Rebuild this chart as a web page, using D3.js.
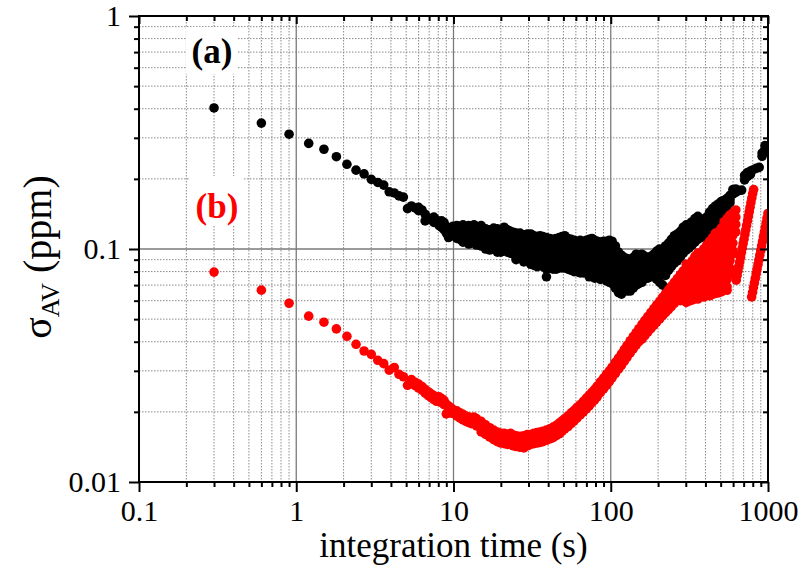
<!DOCTYPE html>
<html><head><meta charset="utf-8">
<script src="https://cdn.jsdelivr.net/npm/d3@7"></script>
<style>body{margin:0;background:#fff}</style>
</head><body><svg id="c" width="804" height="578"></svg>
<script>
// ---- tick labels ----
const xTickValues=[0.1,1,10,100,1000];
const xTickLabels=["0.1","1","10","100","1000"];
const yTickValues=[0.01,0.1,1];
const yTickLabels=["0.01","0.1","1"];
const xTitle="integration time (s)";
const seriesLabels=["(a)","(b)"];

// ---- series (a), black: integration time and sigma readings at each time ----
const blackTau=[0.3,0.6,0.9,1.2,1.5,1.8,2.1,2.4,2.7,3.0,3.3,3.6,3.9,4.2,4.5,4.8,5.1,5.4,5.7,6.0,6.3,6.6,6.9,7.2,7.5,7.8,8.1,8.4,8.7,9.0,9.3,9.6,9.9,10.5,11,11.5,12,12.5,13,13.5,14,15,16,17,18,19,20,21,22,23,24,25,26.5,28,29.5,31,32.5,34,35.5,37,39,41,43,45,47,49,51,53.5,56,58.5,61,64,67,70,73,76,79,82,86,90,94,98,102,107,112,117,122,127,133,139,145,151,158,165,172,180,188,196,205,214,223,233,243,254,265,277,289,302,315,329,343,358,374,390,407,425,444,463,483,504,526,549,573,598,624,651,680,710,741,773,807,842,879,917,957,999];
const blackSigma=[[.403],[.347],[.311],[.284],[.268],[.249],[.231],[.218],[.210],[.199],[.193],[.188],[.176],[.174],[.169],[.167],[.149],
[.153],[.150],[.151,.146],[.147],[.141,.132],[.136],[.134],[.137,.130],[.133],[.131,.126],[.132,.124],[.130,.121],[.125,.117],[.121,.112],[.123,.114],[.125,.117],
[.126,.118,.111],[.125,.117,.110],[.127,.119,.112,.107],[.123,.115,.109],[.126,.118,.111,.105],[.124,.116,.108],[.127,.119,.112,.106],[.125,.117,.110,.104],[.126,.118,.110,.103],[.122,.114,.107,.100],[.121,.113,.106,.099],[.123,.115,.107,.100],[.122,.113,.105,.097],[.120,.112,.104,.097],[.124,.115,.107,.099],[.121,.113,.105,.097],[.119,.111,.103,.096],[.118,.110,.102,.095],[.117,.109,.101,.094,.090],[.117,.108,.100,.093],[.115,.107,.099,.092,.088],[.116,.107,.099,.092],[.116,.107,.099,.092,.086],[.114,.106,.098,.091,.085],[.113,.105,.097,.090,.084],[.114,.106,.098,.091,.086],[.113,.105,.097,.090,.084],[.112,.104,.096,.089,.082,.076],[.111,.103,.096,.089,.083],[.110,.102,.095,.088,.082],[.111,.103,.095,.088,.082],[.112,.104,.096,.089,.083],[.113,.105,.097,.090,.083],[.114,.106,.098,.090,.083],[.111,.103,.095,.088,.082],[.110,.102,.094,.087,.081],[.109,.101,.093,.086,.080],[.108,.100,.093,.086,.080],[.109,.101,.093,.086,.079],[.108,.100,.092,.085,.079],[.109,.101,.093,.086,.079],[.110,.102,.094,.087,.080,.076],[.111,.103,.095,.087,.080],[.109,.101,.093,.086,.079,.075],[.108,.100,.092,.085,.078],[.107,.099,.092,.085,.078,.074],[.108,.100,.092,.085,.078],[.108,.100,.092,.084,.077,.073],[.109,.101,.093,.085,.078,.072],[.108,.100,.092,.084,.077,.071],[.103,.095,.088,.081,.074,.068],[.097,.090,.083,.076,.070,.065],[.094,.087,.080,.074,.068,.064],[.092,.085,.078,.072,.067],[.091,.084,.077,.071,.066],[.090,.083,.077,.071,.066],[.092,.085,.079,.073,.068],[.095,.088,.081,.075,.070],[.094,.087,.081,.075,.071],[.095,.088,.082,.076,.072],[.093,.087,.081,.076],[.092,.086,.080,.075],[.093,.087,.081,.076],[.095,.088,.082,.077],[.098,.091,.084,.078,.074],[.100,.093,.086,.079,.072],[.099,.092,.085,.078,.070],[.103,.096,.089,.082,.077],[.106,.099,.092,.086,.081],[.110,.103,.096,.089,.084],[.114,.106,.099,.092,.087],[.116,.108,.101,.094,.089],[.119,.111,.103,.096,.092],[.124,.116,.108,.101,.096],[.127,.119,.111,.104,.099],[.128,.120,.112,.105,.101],[.131,.123,.115,.108,.104],[.135,.126,.118,.111,.107],[.138,.129,.121,.114,.110],[.134,.126,.118,.112],[.134,.126,.119,.113],[.137,.129,.121,.115],[.144,.135,.127,.120],[.149,.141,.133,.126],[.153,.145,.138,.131],[.156,.148,.141,.135],[.160,.152,.146,.140],[.162,.155,.149],[.165,.158,.152],[.170,.163,.158],[.180,.172],[.181,.175],[.178],[.179],[.207,.198],[.213,.205],[.216,.209],[.219],[.222],[.224],[.258,.250],[.268,.278],[.272,.262]];

// ---- series (b), red ----
const redTau=[0.3,0.6,0.9,1.2,1.5,1.8,2.1,2.4,2.7,3.0,3.3,3.6,3.9,4.2,4.5,4.8,5.1,5.4,5.7,6.0,6.3,6.6,6.9,7.2,7.5,7.8,8.1,8.4,8.7,9.0,9.3,9.6,9.9,10.5,11,11.5,12,12.5,13,13.5,14,15,16,17,18,19,20,21,22,23,24,25,26.5,28,29.5,31,32.5,34,35.5,37,39,41,43,45,47,49,51,53.5,56,58.5,61,64,67,70,73,76,79,82,86,90,94,98,102,107,112,117,122,127,133,139,145,151,158,165,172,180,188,196,205,214,223,233,243,254,265,277,289,302,315,329,343,358,374,390,407,425,444,463,483,504,526,549,573,598,624];
const redSigma=[[.0796],[.0666],[.0585],[.0515],[.0485],[.0454],[.0422],[.0390],[.0365],[.0353],[.0333],[.0322],[.0302],[.0310],[.0290],[.0283],[.0260],
[.0275,.0265],[.0268,.0259],[.0263,.0253],[.0257,.0248],[.0250,.0241],[.0244,.0235],[.0239,.0230],[.0235,.0226],[.0231,.0222],[.0232,.0222],[.0228,.0219],[.0224,.0215],[.0216,.0196],[.0212,.0203],[.0208,.0198],[.0205,.0197],
[.0202,.0192],[.0198,.0188],[.0195,.0185],[.0192,.0182],[.0190,.0180],[.0189,.0178],[.0190,.0179],[.0187,.0174],[.0182,.0170,.0164],[.0176,.0166,.0160],[.0171,.0161,.0156],[.0167,.0158,.0152],[.0164,.0155,.0149],[.0162,.0153,.0147],[.0162,.0152,.0146],[.0160,.0151,.0145],[.0162,.0152,.0146],[.0159,.0150,.0143],[.0158,.0148,.0142],[.0157,.0147,.0141],[.0158,.0147,.0140],[.0160,.0150,.0143],[.0160,.0151,.0145],[.0162,.0153,.0146],[.0163,.0154,.0147],[.0164,.0155,.0148],[.0165,.0156,.0149],[.0167,.0158,.0151],[.0169,.0160,.0153],[.0172,.0163,.0155],[.0175,.0166,.0158],[.0179,.0169,.0161],[.0183,.0173,.0165],[.0187,.0177,.0169],[.0192,.0182,.0173],[.0198,.0187,.0178],[.0203,.0192,.0183],[.0209,.0198,.0188],[.0215,.0204,.0194],[.0222,.0210,.0200],[.0229,.0216,.0206],[.0236,.0223,.0212],[.0243,.0230,.0219],[.0250,.0237,.0225],[.0258,.0244,.0232],[.0269,.0254,.0242],[.0279,.0264,.0251],[.0290,.0274,.0260],[.0300,.0284,.0270],[.0311,.0294,.0280],[.0326,.0308,.0292],[.0340,.0321,.0305],[.0355,.0335,.0317],[.0371,.0350,.0330],[.0386,.0364,.0343],[.0404,.0381,.0358],[.0421,.0397,.0373],[.0438,.0413,.0387],[.0455,.0428,.0400],
[.0475,.0447,.0420,.0410],[.0494,.0465,.0437,.0425],[.0513,.0483,.0454,.0440],[.0534,.0503,.0472,.0455],[.0555,.0522,.0490,.0470],[.0576,.0541,.0508,.0486],[.0598,.0562,.0527,.0502],[.0621,.0583,.0546,.0518],[.0644,.0604,.0566,.0533],[.0668,.0626,.0586,.0550],[.0693,.0649,.0606,.0566],[.0720,.0673,.0628,.0585],[.0746,.0697,.0650,.0605],[.0776,.0724,.0674,.0625,.0600],[.0806,.0752,.0700,.0650,.0610],
[.0860,.0810,.0760,.0710,.0665,.0620,.0590],[.0850,.0800,.0752,.0706,.0662,.0622,.0598],[.0890,.0840,.0785,.0735,.0688,.0645,.0604],[.0930,.0870,.0815,.0760,.0710,.0662,.0612],[.0960,.0900,.0840,.0785,.0730,.0680,.0630,.0610],[.0940,.0880,.0825,.0770,.0720,.0672,.0625],[.1000,.0935,.0870,.0812,.0758,.0708,.0660,.0622],[.1040,.0970,.0905,.0845,.0788,.0735,.0685,.0635],[.1080,.1005,.0935,.0872,.0812,.0758,.0706,.0655,.0630],[.1120,.1040,.0968,.0900,.0838,.0780,.0726,.0676,.0638],[.1170,.1085,.1005,.0932,.0866,.0805,.0748,.0695,.0645],[.1180,.1100,.1025,.0955,.0888,.0826,.0768,.0714,.0665,.0648],[.1230,.1145,.1065,.0990,.0920,.0855,.0795,.0740,.0690,.0655],[.1310,.1215,.1128,.1046,.0970,.0900,.0835,.0775,.0720,.0670],[.1350,.1255,.1165,.1080,.1000,.0928,.0860,.0798,.0740,.0688,.0665],[.1400,.1300,.1205,.1118,.1036,.0960,.0890,.0825,.0780],[.1430,.1330,.1235,.1145,.1060,.0985,.0950],[.1470,.1370,.1275,.1185]];
// long-time strands of series (b)
const redTailTau=[628,636,644,652,661,669,678,686,695,704,713,722,731,741,750,760,769,779,789,799,810,
787,798,808,819,830,841,852,864,875,887,899,911,923,935,948,960,973,986,999];
const redTailSigma=[.0735,.0770,.0805,.0842,.0880,.0920,.0965,.1008,.1055,.1102,.1155,.1208,.1262,.1320,.1382,.1446,.1512,.1582,.1655,.1730,.1800,
.0623,.0652,.0683,.0715,.0748,.0783,.0820,.0858,.0898,.0940,.0984,.1030,.1078,.1129,.1182,.1237,.1295,.1356,.1420];

// ---- drawing ----
const FONT="'Liberation Serif','Times New Roman',Times,'DejaVu Serif',serif";
const L=139,R=768,T=16,B=482;
const svg=d3.select("#c");
const x=d3.scaleLog().domain([0.1,1000]).range([L,R]);
const y=d3.scaleLog().domain([0.01,1]).range([B,T]);
const minorX=[],minorY=[];
[0.1,1,10,100].forEach(d=>{for(let k=2;k<=9;k++)minorX.push(+(d*k).toPrecision(3));});
[0.01,0.1].forEach(d=>{for(let k=2;k<=9;k++)minorY.push(+(d*k).toPrecision(3));});

const grid=svg.append("g");
grid.selectAll(".gxm").data(minorX).enter().append("line")
 .attr("x1",d=>x(d)).attr("x2",d=>x(d)).attr("y1",T).attr("y2",B)
 .attr("stroke","#8a8a8a").attr("stroke-width",1).attr("stroke-dasharray","1.5,1.5");
grid.selectAll(".gym").data(minorY).enter().append("line")
 .attr("y1",d=>y(d)).attr("y2",d=>y(d)).attr("x1",L).attr("x2",R)
 .attr("stroke","#8a8a8a").attr("stroke-width",1).attr("stroke-dasharray","1.5,1.5");
grid.selectAll(".gxM").data(xTickValues.slice(1,-1)).enter().append("line")
 .attr("x1",d=>x(d)).attr("x2",d=>x(d)).attr("y1",T).attr("y2",B)
 .attr("stroke","#7a7a7a").attr("stroke-width",1.3);
grid.selectAll(".gyM").data(yTickValues.slice(1,-1)).enter().append("line")
 .attr("y1",d=>y(d)).attr("y2",d=>y(d)).attr("x1",L).attr("x2",R)
 .attr("stroke","#7a7a7a").attr("stroke-width",1.3);

// white boxes behind series labels
svg.append("rect").attr("x",186).attr("y",27).attr("width",52).attr("height",47).attr("fill","#fff");
svg.append("rect").attr("x",190).attr("y",176).attr("width",54).attr("height",50).attr("fill","#fff");

svg.append("clipPath").attr("id","clip").append("rect").attr("x",L).attr("y",T).attr("width",R-L).attr("height",B-T);
const plot=svg.append("g").attr("clip-path","url(#clip)");
const blackPts=[];blackTau.forEach((t,i)=>blackSigma[i].forEach(s=>blackPts.push([t,s])));
const redPts=[];redTau.forEach((t,i)=>redSigma[i].forEach(s=>redPts.push([t,s])));
redTailTau.forEach((t,i)=>redPts.push([t,redTailSigma[i]]));
const rr=4.8;
plot.selectAll(".b").data(blackPts).enter().append("circle")
 .attr("cx",d=>x(d[0])).attr("cy",d=>y(d[1])).attr("r",rr).attr("fill","#000");
plot.selectAll(".r").data(redPts).enter().append("circle")
 .attr("cx",d=>x(d[0])).attr("cy",d=>y(d[1])).attr("r",rr).attr("fill","#ff0000");

// series labels
svg.append("text").attr("x",212).attr("y",63).attr("text-anchor","middle").attr("font-family",FONT)
 .attr("font-size",35).attr("font-weight","bold").attr("fill","#000").text(seriesLabels[0]);
svg.append("text").attr("x",217).attr("y",218).attr("text-anchor","middle").attr("font-family",FONT)
 .attr("font-size",35).attr("font-weight","bold").attr("fill","#ff0000").text(seriesLabels[1]);

// axes
function styleAxis(g){g.select(".domain").remove();g.selectAll("line").attr("stroke","#000").attr("stroke-width",2);
 g.attr("font-family",FONT).attr("font-size",30);g.selectAll("text").attr("fill","#000");}
svg.append("g").attr("transform",`translate(0,${B})`)
 .call(d3.axisBottom(x).tickValues(xTickValues).tickSize(10).tickPadding(8).tickFormat((d,i)=>xTickLabels[i])).call(styleAxis);
svg.append("g").attr("transform",`translate(0,${B})`)
 .call(d3.axisBottom(x).tickValues(minorX).tickSize(5).tickFormat("")).call(styleAxis);
svg.append("g").attr("transform",`translate(0,${T})`)
 .call(d3.axisBottom(x).tickValues(xTickValues).tickSize(8).tickFormat("")).call(styleAxis);
svg.append("g").attr("transform",`translate(0,${T})`)
 .call(d3.axisBottom(x).tickValues(minorX).tickSize(5).tickFormat("")).call(styleAxis);
svg.append("g").attr("transform",`translate(${L},0)`)
 .call(d3.axisLeft(y).tickValues(yTickValues).tickSize(10).tickPadding(8).tickFormat((d,i)=>yTickLabels[i])).call(styleAxis);
svg.append("g").attr("transform",`translate(${L},0)`)
 .call(d3.axisLeft(y).tickValues(minorY).tickSize(5).tickFormat("")).call(styleAxis);
svg.append("g").attr("transform",`translate(${R},0)`)
 .call(d3.axisLeft(y).tickValues(yTickValues).tickSize(8).tickFormat("")).call(styleAxis);
svg.append("g").attr("transform",`translate(${R},0)`)
 .call(d3.axisLeft(y).tickValues(minorY).tickSize(5).tickFormat("")).call(styleAxis);
svg.append("rect").attr("x",L).attr("y",T).attr("width",R-L).attr("height",B-T)
 .attr("fill","none").attr("stroke","#000").attr("stroke-width",2);

// axis titles
svg.append("text").attr("x",(L+R)/2).attr("y",557).attr("text-anchor","middle").attr("font-family",FONT)
 .attr("font-size",35).attr("fill","#000").text(xTitle);
const yt=svg.append("text").attr("transform","translate(51,257) rotate(-90)").attr("text-anchor","middle")
 .attr("font-family",FONT).attr("font-size",40).attr("fill","#000");
yt.append("tspan").text("σ");
yt.append("tspan").attr("dy",8).attr("font-size",26).text("AV");
yt.append("tspan").attr("dy",-8).text(" (ppm)");
</script></body></html>
